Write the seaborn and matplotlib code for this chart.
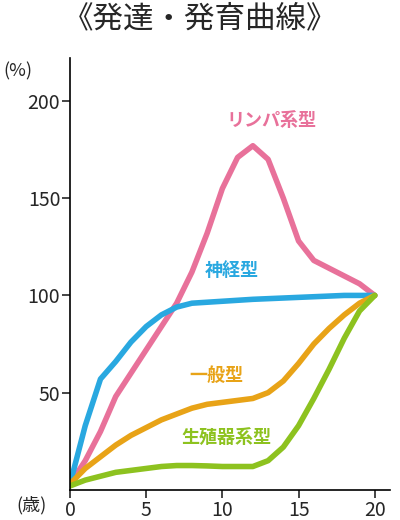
import matplotlib
matplotlib.use("Agg")
import matplotlib.pyplot as plt
import seaborn as sns
import pandas as pd

sns.set_style("white")
plt.rcParams['font.family'] = ['Noto Sans CJK JP', 'DejaVu Sans']

lymph_x = [0,1,2,3,4,5,6,7,8,9,10,11,12,13,14,15,16,17,18,19,20]
lymph_y = [3,15,30,48,60,72,84,96,112,132,155,171,177,170,150,128,118,114,110,106,100]
neural_x = [0,1,2,3,4,5,6,7,8,10,12,15,18,20]
neural_y = [3,33,57,66,76,84,90,94,96,97,98,99,100,100]
general_x = [0,1,2,3,4,5,6,7,8,9,10,11,12,13,14,15,16,17,18,19,20]
general_y = [3,11,17,23,28,32,36,39,42,44,45,46,47,50,56,65,75,83,90,96,100]
repro_x = [0,1,2,3,4,5,6,7,8,9,10,11,12,13,14,15,16,17,18,19,20]
repro_y = [2,5,7,9,10,11,12,12.5,12.5,12.3,12,12,12,15,22,33,47,62,78,92,100]

names = ["リンパ系型", "神経型", "一般型", "生殖器系型"]
colors = ["#E8719A", "#29A8E0", "#E8A317", "#8DC21F"]
label_pos = [(13.2, 190), (10.6, 113), (9.6, 59), (10.3, 27)]

fig = plt.figure(figsize=(4, 5.2), dpi=100)
ax = fig.add_axes([0.175, 0.058, 0.80, 0.83])
for (x, y), c in zip([(lymph_x, lymph_y), (neural_x, neural_y), (general_x, general_y), (repro_x, repro_y)], colors):
    sns.lineplot(x=x, y=y, ax=ax, color=c, lw=4, solid_capstyle='round', solid_joinstyle='round')
for n, c, (px, py) in zip(names, colors, label_pos):
    ax.text(px, py, n, color=c, fontsize=13, fontweight='bold', ha='center', va='center')

ax.set_xlim(0, 21)
ax.set_ylim(0, 222)
ax.set_xticks([0, 5, 10, 15, 20])
ax.set_yticks([50, 100, 150, 200])
ax.tick_params(labelsize=14, length=6, width=1.2, direction='out', left=True, bottom=True, pad=1)
for s in ['top', 'right']:
    ax.spines[s].set_visible(False)
for s in ['left', 'bottom']:
    ax.spines[s].set_color('black')
    ax.spines[s].set_linewidth(1.2)
fig.text(0.5, 0.963, "《発達・発育曲線》", ha='center', va='center', fontsize=22)
fig.text(0.045, 0.862, "(%)", ha='center', va='center', fontsize=13)
fig.text(0.08, 0.028, "(歳)", ha='center', va='center', fontsize=13)
fig.savefig("out.png", dpi=100)
